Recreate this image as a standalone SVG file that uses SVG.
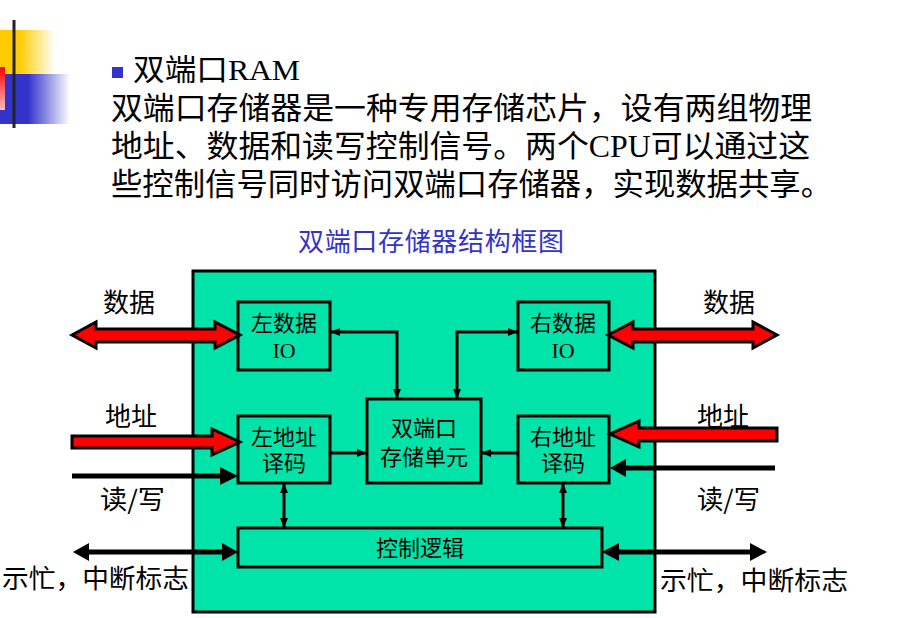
<svg xmlns="http://www.w3.org/2000/svg" width="919" height="618" viewBox="0 0 919 618">
<style>
.t{font-family:"Liberation Serif","Noto Sans CJK SC",serif;fill:#000}
.lbl{font-family:"Noto Sans CJK SC",sans-serif;font-size:26px;fill:#000}
.box{fill:#00E4AA;stroke:#000;stroke-width:3}
.bt{font-family:"Liberation Serif","Noto Sans CJK SC",serif;font-size:22px;fill:#000;text-anchor:middle}
.c{fill:none;stroke:#000;stroke-width:3}
.red{fill:#FF0000;stroke:#000;stroke-width:3;stroke-linejoin:miter}
.bl{stroke:#000;stroke-width:5;fill:none}
.hd{fill:#000}
</style>
<defs>
<linearGradient id="gy" x1="0" x2="1" y1="0" y2="0"><stop offset="0.35" stop-color="#FFCC00"/><stop offset="1" stop-color="#FFCC00" stop-opacity="0"/></linearGradient>
<linearGradient id="gb" x1="0" x2="1" y1="0" y2="0"><stop offset="0.4" stop-color="#3333CC"/><stop offset="1" stop-color="#3333CC" stop-opacity="0"/></linearGradient>
<linearGradient id="gr" x1="0" x2="0" y1="0" y2="1"><stop offset="0" stop-color="#FF0000"/><stop offset="1" stop-color="#FFBBBB"/></linearGradient>
<marker id="ah" viewBox="0 0 10 8" refX="10" refY="4" markerWidth="10" markerHeight="8" markerUnits="userSpaceOnUse" orient="auto-start-reverse"><path d="M0,0 L10,4 L0,8 z" fill="#000"/></marker>
</defs>
<rect width="919" height="618" fill="#fff"/>
<g id="logo">
<rect x="0" y="30" width="55" height="44" fill="url(#gy)"/>
<rect x="0" y="74" width="70" height="50" fill="url(#gb)"/>
<rect x="0" y="67" width="5" height="43" fill="url(#gr)"/>
<rect x="12.5" y="20" width="3" height="108" fill="#222"/>
</g>
<g id="heading">
<rect x="112" y="67" width="11" height="11" fill="#3333CC"/>
<text class="t" x="133" y="80" font-size="30" textLength="167" lengthAdjust="spacingAndGlyphs">双端口RAM</text>
<text class="t" x="111" y="119" font-size="31" textLength="701" lengthAdjust="spacingAndGlyphs">双端口存储器是一种专用存储芯片，设有两组物理</text>
<text class="t" x="111" y="157" font-size="31" textLength="699" lengthAdjust="spacingAndGlyphs">地址、数据和读写控制信号。两个CPU可以通过这</text>
<text class="t" x="111" y="195" font-size="31" textLength="721" lengthAdjust="spacingAndGlyphs">些控制信号同时访问双端口存储器，实现数据共享。</text>
<text x="298" y="251" font-family="Noto Sans CJK SC,sans-serif" font-size="26" fill="#3333CC" textLength="266">双端口存储器结构框图</text>
</g>
<g id="chip"><rect x="193" y="271" width="462" height="341" class="box"/></g>
<g id="left-data-io"><rect x="238" y="302" width="92" height="68" class="box"/><text class="bt" x="284" y="331">左数据</text><text class="bt" x="284" y="358">IO</text></g>
<g id="right-data-io"><rect x="518" y="302" width="91" height="68" class="box"/><text class="bt" x="563" y="331">右数据</text><text class="bt" x="563" y="358">IO</text></g>
<g id="left-addr"><rect x="238" y="416" width="92" height="67" class="box"/><text class="bt" x="284" y="445">左地址</text><text class="bt" x="284" y="471">译码</text></g>
<g id="right-addr"><rect x="518" y="416" width="91" height="67" class="box"/><text class="bt" x="563" y="445">右地址</text><text class="bt" x="563" y="471">译码</text></g>
<g id="storage"><rect x="367" y="399" width="114" height="84" class="box"/><text class="bt" x="424" y="436">双端口</text><text class="bt" x="424" y="465">存储单元</text></g>
<g id="control"><rect x="238" y="528" width="364" height="39" class="box"/><text class="bt" x="420" y="556">控制逻辑</text></g>
<g id="connectors">
<path class="c" d="M330,332 H397 V399" marker-start="url(#ah)" marker-end="url(#ah)"/>
<path class="c" d="M518,332 H457 V399" marker-start="url(#ah)" marker-end="url(#ah)"/>
<path class="c" d="M330,453 H367" marker-end="url(#ah)"/>
<path class="c" d="M518,453 H481" marker-end="url(#ah)"/>
<path class="c" d="M284,483 V528" marker-start="url(#ah)" marker-end="url(#ah)"/>
<path class="c" d="M563,483 V528" marker-start="url(#ah)" marker-end="url(#ah)"/>
<polygon class="red" points="72,335 96,322 96,329 215,329 215,322 240,335 215,348 215,342 96,342 96,348"/>
<polygon class="red" points="608,335 633,322 633,329 753,329 753,322 777,335 753,348 753,342 633,342 633,348"/>
<polygon class="red" points="72,436 212,436 212,429 240,442 212,455 212,448 72,448"/>
<polygon class="red" points="777,428 639,428 639,421 610,434 639,447 639,441 777,441"/>
<line class="bl" x1="72" y1="476" x2="222" y2="476"/>
<polygon class="hd" points="220,467 238,476 220,485"/>
<line class="bl" x1="775" y1="468" x2="624" y2="468"/>
<polygon class="hd" points="626,459 610,468 626,477"/>
<line class="bl" x1="87" y1="552" x2="224" y2="552"/>
<polygon class="hd" points="73,552 89,543 89,561"/>
<polygon class="hd" points="238,552 222,543 222,561"/>
<line class="bl" x1="617" y1="552" x2="752" y2="552"/>
<polygon class="hd" points="602,552 619,543 619,561"/>
<polygon class="hd" points="767,552 750,543 750,561"/>
</g>
<g id="labels">
<text class="lbl" x="103" y="312">数据</text>
<text class="lbl" x="703" y="312">数据</text>
<text class="lbl" x="105" y="426">地址</text>
<text class="lbl" x="697" y="426">地址</text>
<text class="lbl" x="100" y="509" textLength="65" lengthAdjust="spacingAndGlyphs">读/写</text>
<text class="lbl" x="697" y="509" textLength="63" lengthAdjust="spacingAndGlyphs">读/写</text>
<text class="lbl" x="2" y="588" textLength="187" lengthAdjust="spacingAndGlyphs">示忙，中断标志</text>
<text class="lbl" x="660" y="590" textLength="188" lengthAdjust="spacingAndGlyphs">示忙，中断标志</text>
</g>
</svg>
